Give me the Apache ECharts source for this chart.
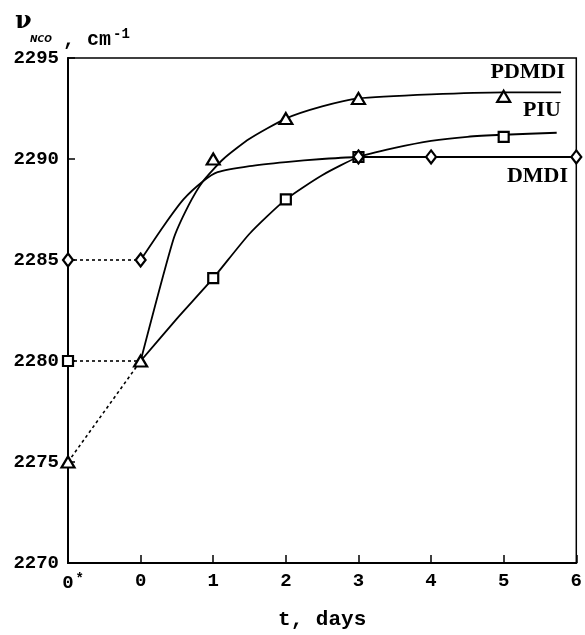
<!DOCTYPE html>
<html>
<head>
<meta charset="utf-8">
<script src="https://cdn.jsdelivr.net/npm/echarts@6/dist/echarts.min.js"></script>
<style>
html,body{margin:0;padding:0;background:#fff;}
#chart{width:585px;height:635px;}
</style>
</head>
<body>
<div id="chart"></div>
<script>
// ---- data ----
// x positions: -1 stands for the "0*" category
const xTickValues = [-1, 0, 1, 2, 3, 4, 5, 6];
const xTickLabels = ['0*', '0', '1', '2', '3', '4', '5', '6'];
const yTicks = [2270, 2275, 2280, 2285, 2290, 2295];

// measured points (markers)
const pdmdiX = [-1, 0, 1, 2, 3, 5];
const pdmdiY = [2275, 2280, 2290, 2292, 2293, 2293.1];
const piuX = [-1, 1, 2, 3, 5];
const piuY = [2280, 2284.1, 2288, 2290.1, 2291.1];
const dmdiX = [-1, 0, 3, 4, 6];
const dmdiY = [2285, 2285, 2290.1, 2290.1, 2290.1];

// dotted connectors from 0* to 0
const pdmdiDotX = [-1, 0];
const pdmdiDotY = [2275, 2280];
const piuDotX = [-1, 0];
const piuDotY = [2280, 2280];
const dmdiDotX = [-1, 0];
const dmdiDotY = [2285, 2285];

// fitted curves
const pdmdiCurveX = [0, 0.45, 0.66, 0.86, 1.14, 1.5, 2, 2.5, 3, 4, 5, 5.79];
const pdmdiCurveY = [2280, 2286.0, 2287.7, 2288.9, 2290.0, 2291.0, 2292, 2292.6, 2293, 2293.2, 2293.3, 2293.3];
const piuCurveX = [0, 0.5, 1, 1.5, 2, 2.5, 3, 3.5, 4, 4.5, 5, 5.73];
const piuCurveY = [2280, 2282.1, 2284.1, 2286.3, 2288, 2289.2, 2290.1, 2290.55, 2290.9, 2291.1, 2291.2, 2291.3];
const dmdiCurveX = [0, 0.32, 0.59, 0.86, 1.06, 1.5, 2, 2.5, 3, 4, 5, 6];
const dmdiCurveY = [2285, 2286.7, 2288.0, 2288.9, 2289.35, 2289.65, 2289.85, 2290, 2290.1, 2290.1, 2290.1, 2290.1];

const seriesNames = ['PDMDI', 'PIU', 'DMDI'];

const zip = (xs, ys) => xs.map((x, i) => [x, ys[i]]);

const chart = echarts.init(document.getElementById('chart'), null, {renderer: 'canvas'});
const mono = 'Liberation Mono';
const serif = 'Liberation Serif';

const lineStyle = {color: '#000', width: 1.8};
const dotStyle = {color: '#000', width: 1.6, type: [3, 3]};
const markerStyle = {color: '#fff', borderColor: '#000', borderWidth: 2.2, opacity: 1};

function curve(name, xs, ys) {
  return {name, type: 'line', data: zip(xs, ys), smooth: 0.2, showSymbol: false, symbol: 'none',
    lineStyle, silent: true, z: 2};
}
function dotted(name, xs, ys) {
  return {name, type: 'line', data: zip(xs, ys), showSymbol: false, symbol: 'none',
    lineStyle: dotStyle, silent: true, z: 2};
}
function marks(name, xs, ys, symbol, size) {
  return {name, type: 'scatter', data: zip(xs, ys), symbol, symbolSize: size,
    itemStyle: markerStyle, z: 5};
}

chart.setOption({
  animation: false,
  backgroundColor: '#fff',
  grid: {left: 68, right: 7, top: 58, bottom: 67, show: true, borderColor: '#000', borderWidth: 1.5, backgroundColor: 'transparent'},
  xAxis: {
    type: 'value', min: -1, max: 6, interval: 1,
    name: 't, days', nameLocation: 'middle', nameGap: 46,
    nameTextStyle: {fontFamily: mono, fontWeight: 'bold', fontSize: 21, color: '#000'},
    axisLine: {onZero: false, lineStyle: {color: '#000', width: 2}},
    axisTick: {inside: true, length: 8, lineStyle: {color: '#000', width: 1.5}},
    splitLine: {show: false},
    axisLabel: {
      margin: 9, color: '#000', fontFamily: mono, fontWeight: 'bold', fontSize: 19,
      formatter: v => {
        const i = xTickValues.indexOf(v);
        const t = i >= 0 ? xTickLabels[i] : '';
        if (t.endsWith('*')) return '{p|}{n|' + t.slice(0, -1) + '}{s|*}';
        return t;
      },
      rich: {
        p: {width: 12},
        n: {fontFamily: mono, fontWeight: 'bold', fontSize: 19, color: '#000'},
        s: {fontFamily: mono, fontWeight: 'bold', fontSize: 14, color: '#000', verticalAlign: 'top', padding: [0, 0, 8, 0], width: 12}
      }
    }
  },
  yAxis: {
    type: 'value', min: yTicks[0], max: yTicks[yTicks.length - 1], interval: 5,
    axisLine: {show: true, onZero: false, lineStyle: {color: '#000', width: 2}},
    axisTick: {show: true, inside: true, length: 7, lineStyle: {color: '#000', width: 1.5}},
    splitLine: {show: false},
    axisLabel: {margin: 9, color: '#000', fontFamily: mono, fontWeight: 'bold', fontSize: 19,
      formatter: v => String(v)}
  },
  graphic: [
    {type: 'text', left: 15, top: 10, style: {text: 'ν', fontFamily: 'DejaVu Serif', fontWeight: 'bold', fontSize: 24, fill: '#000'}},
    {type: 'text', left: 30, top: 35, style: {text: 'NCO', fontFamily: 'DejaVu Sans', fontWeight: 'bold', fontStyle: 'italic', fontSize: 9, fill: '#000'}},
    {type: 'text', left: 63, top: 30, style: {text: ', cm', fontFamily: mono, fontWeight: 'bold', fontSize: 20, fill: '#000'}},
    {type: 'text', left: 113, top: 27, style: {text: '-1', fontFamily: mono, fontWeight: 'bold', fontSize: 14, fill: '#000'}},
    {type: 'text', right: 20, top: 61, style: {text: seriesNames[0], fontFamily: serif, fontWeight: 'bold', fontSize: 22, fill: '#000'}},
    {type: 'text', right: 24, top: 99, style: {text: seriesNames[1], fontFamily: serif, fontWeight: 'bold', fontSize: 22, fill: '#000'}},
    {type: 'text', right: 17, top: 165, style: {text: seriesNames[2], fontFamily: serif, fontWeight: 'bold', fontSize: 22, fill: '#000'}}
  ],
  series: [
    dotted(seriesNames[0], pdmdiDotX, pdmdiDotY),
    dotted(seriesNames[1], piuDotX, piuDotY),
    dotted(seriesNames[2], dmdiDotX, dmdiDotY),
    curve(seriesNames[0], pdmdiCurveX, pdmdiCurveY),
    curve(seriesNames[1], piuCurveX, piuCurveY),
    curve(seriesNames[2], dmdiCurveX, dmdiCurveY),
    marks(seriesNames[0], pdmdiX, pdmdiY, 'triangle', [13, 11]),
    marks(seriesNames[1], piuX, piuY, 'rect', [10, 10]),
    marks(seriesNames[2], dmdiX, dmdiY, 'diamond', [10, 13])
  ]
});
</script>
</body>
</html>
